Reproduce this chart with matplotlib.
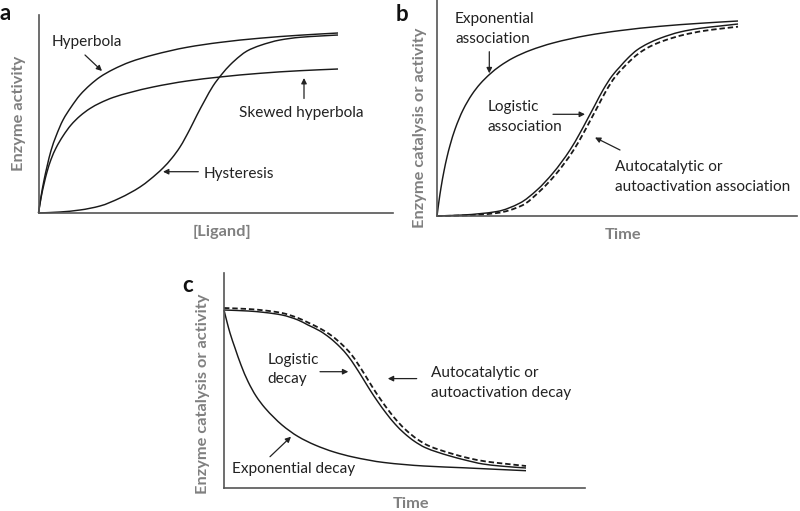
import matplotlib
matplotlib.use("Agg")
import matplotlib.pyplot as plt
from matplotlib.path import Path
from matplotlib.patches import PathPatch, FancyArrowPatch

plt.rcParams['font.family'] = ['Lato', 'DejaVu Sans']

W, H = 800, 511

# ---------------- Panel a data (x = ligand, y = activity) ----------------
a_x = [0, 2.5, 5.5, 8.5, 12.5, 17.5, 24.5, 32.5, 41.5, 51.5, 61.5, 74.5, 91.5,
       114.5, 148.5, 181.5, 221.5, 261.5, 299.5]
a_hyperbola = [0, 16.3, 32.7, 46.3, 62.4, 76.8, 93, 105.8, 118, 128, 136,
               143.5, 151, 158, 165.7, 170.6, 174.8, 177.8, 180]
a_skewed = [0, 15, 29, 41, 53.5, 65, 77, 88, 97, 104.5, 110, 115.5, 120.5,
            126, 132, 136, 139.7, 142.3, 144]
a_hyst_x = [0, 21.5, 41.5, 61.5, 81.5, 101.5, 111.5, 124.5, 133.5, 141.5,
            151.5, 158.5, 166.5, 174.5, 183.5, 191.5, 201.5, 208.5, 221.5,
            241.5, 261.5, 281.5, 299.5]
a_hyst = [0, 1, 3, 7, 15, 26, 33.5, 45, 55, 66, 84, 98, 113, 127, 139, 148,
          157, 162, 167.5, 173, 175.7, 177, 178]

# ---------------- Panel b data (x = time) ----------------
b_exp_x = [0, 2, 4, 7, 10, 13, 18, 26, 35, 43, 53, 63, 76, 93, 116, 150, 183,
           223, 263, 301]
b_exp = [0, 15.1, 28.3, 45, 58.9, 70.6, 86.7, 106, 121.6, 132, 142, 150, 158,
         165.6, 173, 180.5, 185.4, 189.7, 192.7, 195]
b_log_x = [0, 26, 60, 83, 100, 116, 133, 143, 150, 158, 166, 175, 183, 191,
           200, 211, 223, 243, 263, 283, 301]
b_log = [0, 1, 4.5, 13, 26, 43, 66, 83, 96, 111, 126, 140, 149.3, 158, 166,
         172.5, 177.7, 184, 187.7, 190, 192]
b_auto_x = [0, 26, 60, 85, 103, 119, 136, 146, 153, 161, 169, 178, 186, 194,
            203, 214, 226, 246, 266, 285, 301]
b_auto = [0, 0.5, 3, 10.5, 25, 42, 65, 82, 95, 110, 125, 139, 148, 156, 163.5,
          170, 175, 181, 185, 187.5, 189.3]

# ---------------- Panel c data (x = time) ----------------
c_exp_x = [0, 3, 6, 11, 17, 24, 32, 41, 50, 58, 74, 91, 110, 129, 160, 200,
           240, 276, 302]
c_exp = [178, 166, 155, 140, 123, 106.5, 92, 80, 70.5, 63, 51.5, 43, 36, 31,
         25.5, 22, 20.2, 18.5, 17.3]
c_log_x = [0, 24, 41, 58, 74, 84, 96, 106, 116, 124, 131, 138, 146, 154, 162,
           171, 180, 190, 201, 213, 226, 241, 259, 276, 302]
c_log = [178, 177, 175.5, 173, 168, 163, 157, 150, 141, 132, 122, 111, 98, 86,
         75, 64, 55, 47, 40.5, 36, 32, 28, 24, 22, 20]
c_auto_x = [0, 24, 41, 58, 74, 85, 97, 108, 118.5, 127, 134, 141, 149, 157,
            165, 174, 183, 193, 204, 216, 229, 244, 262, 279, 302]
c_auto = [180, 179, 177.5, 175, 170, 165, 159, 152, 143, 134, 124, 113, 100,
          88, 77, 66, 57, 49, 42.5, 38, 34, 30, 26.5, 24.5, 22]

CURVE = '#1a1a1a'
AXC = '#555555'
LABC = '#808080'
FS = 11.1
LFS = 11.8
LW = 1.05

fig = plt.figure(figsize=(W / 100, H / 100), dpi=100)


def smooth_line(ax, xs, ys, **kw):
    """Draw a smooth curve passing through the given points (monotone
    cubic Hermite rendered as Bezier segments)."""
    n = len(xs)
    h = [xs[i + 1] - xs[i] for i in range(n - 1)]
    d = [(ys[i + 1] - ys[i]) / h[i] for i in range(n - 1)]
    m = [0.0] * n
    m[0], m[-1] = d[0], d[-1]
    for k in range(1, n - 1):
        if d[k - 1] * d[k] <= 0:
            m[k] = 0.0
        else:
            w1 = 2 * h[k] + h[k - 1]
            w2 = h[k] + 2 * h[k - 1]
            m[k] = (w1 + w2) / (w1 / d[k - 1] + w2 / d[k])
    verts = [(xs[0], ys[0])]
    codes = [Path.MOVETO]
    for i in range(n - 1):
        hh = h[i] / 3.0
        verts += [(xs[i] + hh, ys[i] + m[i] * hh),
                  (xs[i + 1] - hh, ys[i + 1] - m[i + 1] * hh),
                  (xs[i + 1], ys[i + 1])]
        codes += [Path.CURVE4] * 3
    patch = PathPatch(Path(verts, codes), fill=False,
                      edgecolor=kw.get('color', CURVE),
                      lw=kw.get('lw', LW), linestyle=kw.get('ls', '-'),
                      capstyle='butt', joinstyle='round')
    patch.set_clip_on(False)
    ax.add_patch(patch)


def make_axes(x0, ybot, xr, ytop):
    ax = fig.add_axes([x0 / W, 1 - ybot / H, (xr - x0) / W, (ybot - ytop) / H])
    ax.set_xlim(0, xr - x0)
    ax.set_ylim(0, ybot - ytop)
    for s in ['top', 'right']:
        ax.spines[s].set_visible(False)
    for s in ['left', 'bottom']:
        ax.spines[s].set_color(AXC)
        ax.spines[s].set_linewidth(1.2)
    ax.set_xticks([])
    ax.set_yticks([])
    ax.patch.set_alpha(0)
    return ax


def ftext(x, y, s, **kw):
    kw.setdefault('fontsize', FS)
    kw.setdefault('color', '#222222')
    fig.text(x / W, 1 - y / H, s, **kw)


def farrow(x1, y1, x2, y2):
    fig.add_artist(FancyArrowPatch(
        (x1 / W, 1 - y1 / H), (x2 / W, 1 - y2 / H), transform=fig.transFigure,
        arrowstyle='-|>', mutation_scale=8, lw=0.9, color='#222222',
        shrinkA=0, shrinkB=0))


DASH = (0, (3, 1.6))

# ---- Panel a ----
ax = make_axes(38.5, 213, 393, 15)
smooth_line(ax, a_x, a_hyperbola)
smooth_line(ax, a_x, a_skewed)
smooth_line(ax, a_hyst_x, a_hyst)

ftext(0, 20, 'a', fontsize=16, fontweight='bold', color='#111111')
ftext(51.5, 46, 'Hyperbola')
farrow(85, 55, 102, 71)
ftext(239, 116.7, 'Skewed hyperbola')
farrow(304, 98.5, 304, 78)
ftext(204, 178.3, 'Hysteresis')
farrow(198.3, 171.7, 163, 171.7)
ftext(19, 113, 'Enzyme activity', rotation=90, ha='center', va='center',
      fontsize=LFS, fontweight='bold', color=LABC)
ftext(222.5, 232, '[Ligand]', ha='center', va='center', fontsize=LFS,
      fontweight='bold', color=LABC)

# ---- Panel b ----
ax = make_axes(437, 216, 797, 0)
smooth_line(ax, b_exp_x, b_exp)
smooth_line(ax, b_log_x, b_log)
smooth_line(ax, b_auto_x, b_auto, lw=1.3, ls=DASH)

ftext(396, 21, 'b', fontsize=16, fontweight='bold', color='#111111')
ftext(455, 22.5, 'Exponential')
ftext(455, 43.3, 'association')
farrow(489.3, 51.7, 489.3, 73.3)
ftext(487.3, 110.7, 'Logistic')
ftext(487.3, 131, 'association')
farrow(553, 114.3, 585, 114.3)
ftext(615, 170.5, 'Autocatalytic or')
ftext(615, 190.5, 'autoactivation association')
farrow(620, 150, 595, 137.5)
ftext(420, 127.5, 'Enzyme catalysis or activity', rotation=90, ha='center',
      va='center', fontsize=LFS, fontweight='bold', color=LABC)
ftext(623, 235, 'Time', ha='center', va='center', fontsize=LFS,
      fontweight='bold', color=LABC)

# ---- Panel c ----
ax = make_axes(224, 488, 585, 273)
smooth_line(ax, c_exp_x, c_exp)
smooth_line(ax, c_log_x, c_log)
smooth_line(ax, c_auto_x, c_auto, lw=1.3, ls=DASH)

ftext(182, 292, 'c', fontsize=16, fontweight='bold', color='#111111')
ftext(267.5, 364, 'Logistic')
ftext(267.5, 383, 'decay')
farrow(320, 371.7, 348.3, 371.7)
ftext(430.7, 377.2, 'Autocatalytic or')
ftext(430.7, 397.2, 'autoactivation decay')
farrow(416.7, 378.6, 387.8, 378.6)
ftext(231.7, 472.5, 'Exponential decay')
farrow(270, 456.7, 291, 436.7)
ftext(203, 394, 'Enzyme catalysis or activity', rotation=90, ha='center',
      va='center', fontsize=LFS, fontweight='bold', color=LABC)
ftext(411, 504, 'Time', ha='center', va='center', fontsize=LFS,
      fontweight='bold', color=LABC)

fig.savefig('out.png', dpi=100)
